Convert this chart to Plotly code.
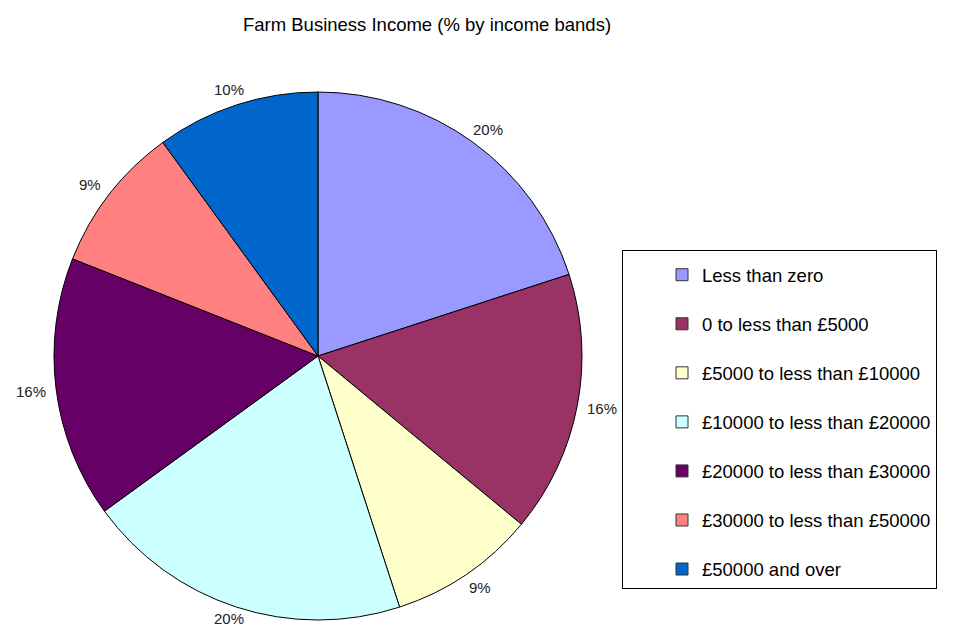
import math
import plotly.graph_objects as go

title_text = "Farm Business Income (% by income bands)"
bands = [
    "Less than zero",
    "0 to less than £5000",
    "£5000 to less than £10000",
    "£10000 to less than £20000",
    "£20000 to less than £30000",
    "£30000 to less than £50000",
    "£50000 and over",
]
shares = [20, 16, 9, 20, 16, 9, 10]
colors = ["#9999FF", "#993366", "#FFFFCC", "#CCFFFF", "#660066", "#FF8080", "#0066CC"]

W, H = 980, 628
cx, cy, r = 318, 356, 264
lab_rx, lab_ry = 289, 280
FONT = "Arial, 'Liberation Sans', sans-serif"

fig = go.Figure()
fig.add_trace(go.Pie(
    labels=bands,
    values=shares,
    sort=False,
    direction="clockwise",
    rotation=0,
    marker=dict(colors=colors, line=dict(color="#000000", width=1)),
    textinfo="none",
    showlegend=False,
    hoverinfo="label+percent",
    domain=dict(x=[(cx - r) / W, (cx + r) / W], y=[1 - (cy + r) / H, 1 - (cy - r) / H]),
))

# percentage labels placed outside the slices at each slice's mid-angle
total = sum(shares)
cum = 0
for v in shares:
    mid = (cum + v / 2) / total * 2 * math.pi
    cum += v
    px = cx + lab_rx * math.sin(mid)
    py = min(cy - lab_ry * math.cos(mid), H - 10)
    fig.add_annotation(
        x=px / W, y=1 - py / H, xref="paper", yref="paper",
        text=f"{v}%", showarrow=False, xanchor="center", yanchor="middle",
        font=dict(family=FONT, size=15, color="#222222"),
    )

for i, (b, c) in enumerate(zip(bands, colors)):
    fig.add_trace(go.Scatter(
        x=[None], y=[None], mode="markers", name=b,
        legendgroup=f"g{i}",
        marker=dict(symbol="square", size=12, color=c, line=dict(color="#333333", width=1)),
        hoverinfo="skip",
    ))

fig.update_layout(
    width=W, height=H,
    margin=dict(l=0, r=0, t=0, b=0, autoexpand=False),
    paper_bgcolor="white", plot_bgcolor="white",
    title=dict(text=title_text, x=427 / W, xanchor="center", y=1 - 25 / H, yanchor="middle",
               font=dict(family=FONT, size=18.5, color="#000000")),
    xaxis=dict(visible=False), yaxis=dict(visible=False),
    legend=dict(
        x=622 / W, xanchor="left", y=1 - 250 / H, yanchor="top",
        bordercolor="#000000", borderwidth=1, bgcolor="white",
        font=dict(family=FONT, size=18.5, color="#000000"),
        title=dict(text="&nbsp;", font=dict(size=4)),
        tracegroupgap=22, traceorder="grouped", indentation=39,
        itemclick=False, itemdoubleclick=False,
    ),
)

fig.write_html("out.html")
